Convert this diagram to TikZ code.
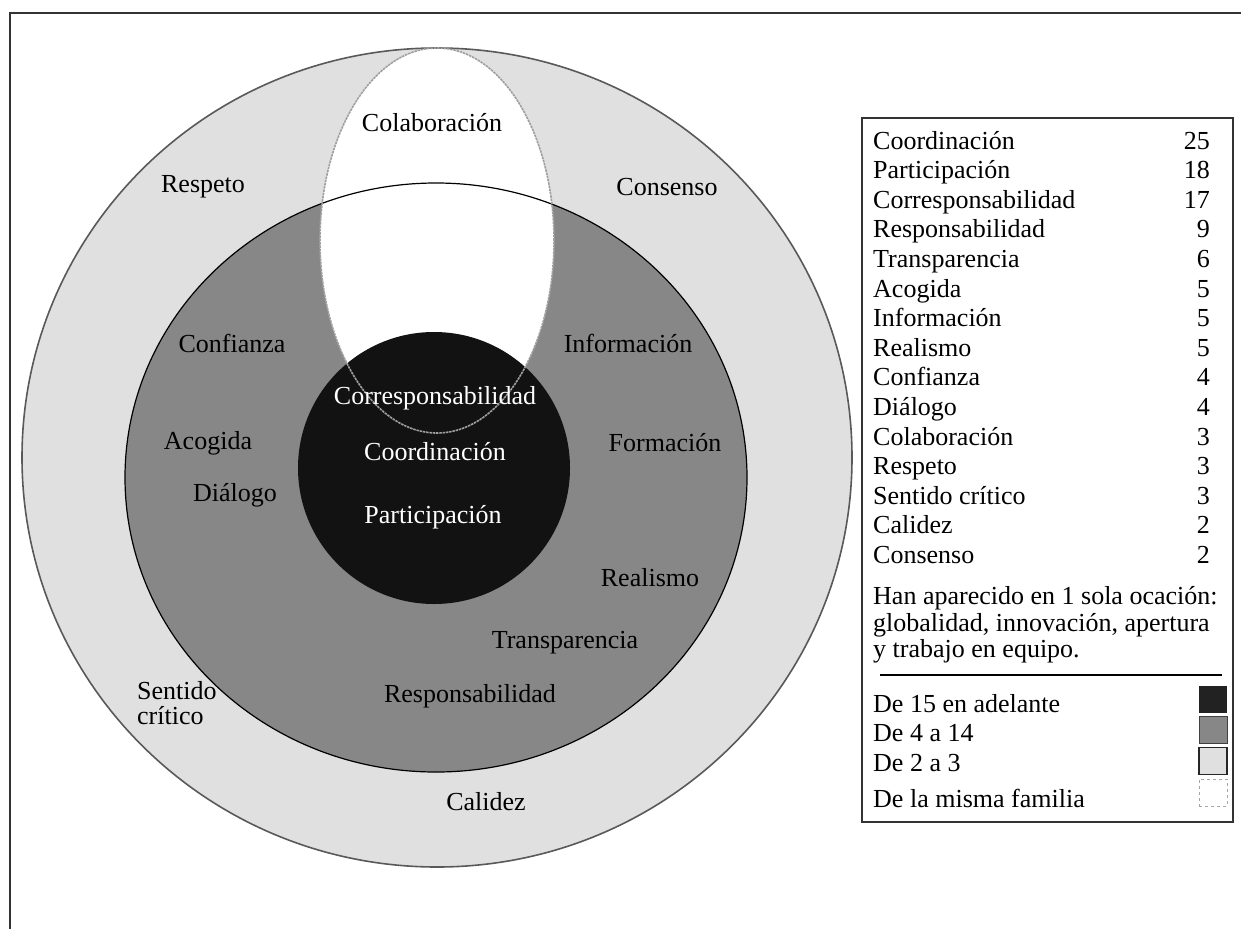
\documentclass[tikz,border=0pt]{standalone}
\usepackage{fontspec}
\setmainfont{Liberation Serif}

\definecolor{grisclaro}{gray}{0.88}
\definecolor{grismedio}{gray}{0.53}
\definecolor{grisnucleo}{gray}{0.07}

\tikzset{
  etiqueta/.style={font=\fontsize{26}{25.5}\selectfont, inner sep=0pt},
  etiquetablanca/.style={etiqueta, text=white},
  muestra/.style={minimum width=28pt, minimum height=27pt, inner sep=0pt},
  familia/.style={gray!75, line width=1.6pt, dash pattern=on 2.5pt off 0.8pt}
}

\begin{document}
\begin{tikzpicture}[x=1pt,y=-1pt]
  % Parámetros
  \def\interlinea{29.6} % Distancia entre líneas de la tabla
  \def\xtexto{873} % Margen izquierdo de la tabla
  \def\xnum{1210} % Margen derecho de las cifras

  \useasboundingbox (0,0) rectangle (1241,929);

  % Marco de la página
  \draw[gray!40!black, line width=1.5pt] (10,929) -- (10,13) -- (1241,13);

  % Rellenos de los anillos
  \fill[grisclaro] (437,457.5) ellipse [x radius=415pt, y radius=409.5pt];
  \fill[grismedio] (436,477.5) ellipse [x radius=311pt, y radius=294.5pt];
  \fill[white] (437,240.5) ellipse [x radius=117pt, y radius=192.5pt];
  \fill[grisnucleo] (434,468) circle [radius=136pt];

  % Contornos
  \draw[gray!70!black, line width=1.6pt] (437,457.5) ellipse [x radius=415pt, y radius=409.5pt];
  \draw[black, line width=1.2pt] (436,477.5) ellipse [x radius=311pt, y radius=294.5pt];
  \draw[familia] (437,240.5) ellipse [x radius=117pt, y radius=192.5pt];

  % Palabras en los anillos
  \foreach \texto/\x/\y [count=\i] in {Colaboración/432/123, Respeto/203/187,
      Consenso/667/187, Confianza/232/343, Información/628/343,
      Acogida/208/443, Formación/665/443, Diálogo/235/495,
      Realismo/650/578, Transparencia/565/643, Responsabilidad/470/696,
      Calidez/486/802}
  {
    \node[etiqueta] (p\i) at (\x,\y) {\texto};
  }
  \node[etiqueta, align=left, anchor=north west] (sentido) at (137,681) {Sentido\\crítico};

  % Palabras del núcleo
  \node[etiquetablanca] (corresp) at (435,398) {Corresponsabilidad};
  \node[etiquetablanca] (coord) at (435,452) {Coordinación};
  \node[etiquetablanca] (partic) at (433,517) {Participación};

  % Tabla de frecuencias
  \draw[gray!40!black, line width=1.3pt] (862,118) rectangle (1233,822);
  \foreach \nombre/\valor [count=\i from 0] in {Coordinación/25, Participación/18,
      Corresponsabilidad/17, Responsabilidad/9, Transparencia/6, Acogida/5,
      Información/5, Realismo/5, Confianza/4, Diálogo/4, Colaboración/3,
      Respeto/3, Sentido crítico/3, Calidez/2, Consenso/2}
  {
    \pgfmathsetmacro{\ybase}{149 + \i*\interlinea}
    \node[etiqueta, anchor=base west] (n\i) at (\xtexto,\ybase) {\nombre};
    \node[etiqueta, anchor=base east] (v\i) at (\xnum,\ybase) {\valor};
  }
  \node[etiqueta, anchor=base west] (nota1) at (\xtexto,604) {Han aparecido en 1 sola ocación:};
  \node[etiqueta, anchor=base west] (nota2) at (\xtexto,631) {globalidad, innovación, apertura};
  \node[etiqueta, anchor=base west] (nota3) at (\xtexto,657) {y trabajo en equipo.};
  \draw[black, line width=1.2pt] (880,675) -- (1222,675);

  % Leyenda de colores
  \node[etiqueta, anchor=base west] (ley1) at (\xtexto,712) {De 15 en adelante};
  \node[etiqueta, anchor=base west] (ley2) at (\xtexto,741) {De 4 a 14};
  \node[etiqueta, anchor=base west] (ley3) at (\xtexto,771) {De 2 a 3};
  \node[etiqueta, anchor=base west] (ley4) at (\xtexto,807) {De la misma familia};
  \node[muestra, fill=grisnucleo!85!gray] (m1) at (1213,699.5) {};
  \node[muestra, fill=grismedio, draw=gray!50!black, line width=1pt] (m2) at (1213,730) {};
  \node[muestra, fill=grisclaro, draw=gray!30!black, line width=1.5pt] (m3) at (1213,761) {};
  \node[muestra, draw=gray!70, dashed, line width=0.8pt] (m4) at (1213,792.5) {};
\end{tikzpicture}
\end{document}
